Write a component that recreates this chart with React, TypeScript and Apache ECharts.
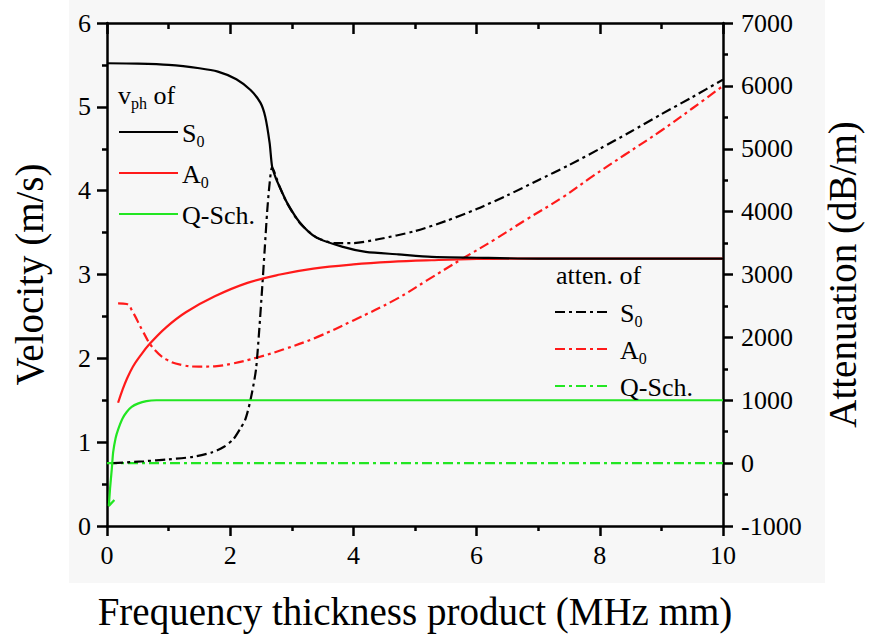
import React, { useEffect, useRef } from 'react';
import * as echarts from 'echarts';

// ---- Data ----
// Phase velocity (m/s), left axis
const s0VelX = [0, 0.5, 1, 1.5, 1.8, 2.1, 2.33, 2.49, 2.57, 2.64, 2.68, 2.74, 2.8, 2.92, 3.13, 3.4, 3.83, 4.2, 4.73, 5.27, 6, 7, 8, 9, 10];
const s0VelY = [5.52, 5.515, 5.5, 5.46, 5.42, 5.33, 5.2, 5.05, 4.88, 4.57, 4.29, 4.15, 4.05, 3.86, 3.62, 3.44, 3.33, 3.27, 3.24, 3.21, 3.2, 3.19, 3.19, 3.19, 3.19];

const a0VelX = [0.18, 0.25, 0.32, 0.42, 0.53, 0.69, 0.96, 1.28, 1.75, 2.28, 2.81, 3.35, 4.0, 4.6, 5.27, 6, 7, 8, 9, 10];
const a0VelY = [1.47, 1.62, 1.75, 1.9, 2.02, 2.17, 2.37, 2.55, 2.74, 2.9, 3.0, 3.07, 3.12, 3.15, 3.17, 3.185, 3.19, 3.19, 3.19, 3.19];

const qsVelX = [0.12, 0.03, 0.05, 0.08, 0.1, 0.14, 0.18, 0.25, 0.32, 0.4, 0.5, 0.64, 0.8, 2, 4, 6, 8, 10];
const qsVelY = [0.31, 0.24, 0.45, 0.7, 0.88, 1.05, 1.15, 1.28, 1.36, 1.42, 1.46, 1.49, 1.5, 1.5, 1.5, 1.5, 1.5, 1.5];

// Attenuation (dB/m), right axis
const s0AttX = [0.1, 0.6, 1.0, 1.4, 1.7, 1.9, 2.05, 2.17, 2.24, 2.3, 2.36, 2.42, 2.47, 2.52, 2.56, 2.6, 2.64, 2.68, 2.8, 2.92, 3.13, 3.4, 3.7, 4.0, 4.4, 5, 5.5, 6, 6.5, 7, 7.5, 8, 8.5, 9, 9.5, 10];
const s0AttY = [0, 30, 60, 100, 170, 260, 380, 560, 680, 880, 1150, 1500, 2100, 2800, 3400, 4000, 4450, 4700, 4400, 4140, 3820, 3590, 3500, 3500, 3560, 3690, 3850, 4040, 4260, 4500, 4740, 5000, 5270, 5550, 5820, 6100];

const a0AttX = [0.18, 0.32, 0.42, 0.58, 0.74, 0.96, 1.22, 1.49, 1.75, 2.02, 2.44, 2.87, 3.4, 4.0, 4.68, 5.2, 5.75, 6.3, 6.8, 7.4, 7.88, 8.4, 9.0, 9.5, 10];
const a0AttY = [2540, 2530, 2400, 2100, 1840, 1650, 1560, 1535, 1540, 1580, 1680, 1810, 2000, 2270, 2600, 2910, 3240, 3560, 3870, 4230, 4560, 4900, 5290, 5640, 6000];

const qsAttX = [0, 10];
const qsAttY = [0, 0];

// Axis ranges / ticks
const xMin = 0, xMax = 10, xStep = 2;
const vMin = 0, vMax = 6, vStep = 1;
const aMin = -1000, aMax = 7000, aStep = 1000;

const xTitle = 'Frequency thickness product (MHz mm)';
const vTitle = 'Velocity (m/s)';
const aTitle = 'Attenuation (dB/m)';

const BLACK = '#000000';
const RED = '#ff1a1a';
const GREEN = '#22e622';
const FONT = 'Liberation Serif';
const DASHDOT = [10, 4, 3, 4];
const LW = 2.2;
const AXW = 2.5;
const AXC = '#000000';

const zip = (xs: number[], ys: number[]) => xs.map((x, i) => [x, ys[i]]);

const richSub = {
  m: { fontFamily: FONT, fontSize: 26, color: BLACK, lineHeight: 32 },
  s: { fontFamily: FONT, fontSize: 16, color: BLACK, verticalAlign: 'bottom', lineHeight: 16 },
};

function legendRow(x: number, y: number, len: number, color: string, dash: any, label: string, textX: number) {
  const hasSub = label.endsWith('0');
  const txt = hasSub ? `{m|${label.slice(0, -1)}}{s|0}` : `{m|${label}}`;
  return [
    {
      type: 'line',
      shape: { x1: x, y1: y, x2: x + len, y2: y },
      style: { stroke: color, lineWidth: LW, lineDash: dash },
      z: 10,
    },
    {
      type: 'text',
      x: textX,
      y: y + 1,
      style: { text: txt, rich: richSub, verticalAlign: 'middle', align: 'left' },
      z: 10,
    },
  ];
}

export default function App() {
  const ref = useRef<HTMLDivElement>(null);
  useEffect(() => {
    document.body.style.margin = '0';
    const chart = echarts.init(ref.current!, null, { renderer: 'svg' });
    const axisLine = () => ({ show: true, onZero: false, lineStyle: { color: AXC, width: AXW } });
    const tick = (inside: boolean, len: number) => ({ show: true, inside, length: len, lineStyle: { color: AXC, width: AXW } });
    const minor = (len: number) => ({ show: true, splitNumber: 2, length: len, lineStyle: { color: AXC, width: AXW } });
    const labelStyle = () => ({ fontFamily: FONT, fontSize: 26, color: BLACK });
    const option: any = {
      animation: false,
      grid: { left: 107, right: 137, top: 23, bottom: 109 },
      xAxis: [
        {
          type: 'value', position: 'bottom', min: xMin, max: xMax, interval: xStep,
          axisLine: axisLine(), splitLine: { show: false },
          axisTick: tick(false, 10), minorTick: minor(5),
          axisLabel: { ...labelStyle(), margin: 16 },
          name: xTitle, nameLocation: 'middle', nameGap: 66,
          nameTextStyle: { fontFamily: FONT, fontSize: 39, color: BLACK },
        },
        {
          type: 'value', position: 'top', min: xMin, max: xMax, interval: xStep,
          axisLine: axisLine(), splitLine: { show: false },
          axisTick: tick(true, 11), minorTick: minor(6),
          axisLabel: { show: false },
        },
      ],
      yAxis: [
        {
          type: 'value', position: 'left', min: vMin, max: vMax, interval: vStep,
          axisLine: axisLine(), splitLine: { show: false },
          axisTick: tick(false, 10), minorTick: minor(5),
          axisLabel: { ...labelStyle(), margin: 16 },
          name: vTitle, nameLocation: 'middle', nameRotate: 90, nameGap: 58,
          nameTextStyle: { fontFamily: FONT, fontSize: 39, color: BLACK },
        },
        {
          type: 'value', position: 'right', min: aMin, max: aMax, interval: aStep,
          axisLine: axisLine(), splitLine: { show: false },
          axisTick: tick(false, 10), minorTick: minor(5),
          axisLabel: { ...labelStyle(), margin: 18, formatter: (v: number) => String(v) },
          name: aTitle, nameLocation: 'middle', nameRotate: 90, nameGap: 100,
          nameTextStyle: { fontFamily: FONT, fontSize: 39, color: BLACK },
        },
      ],
      graphic: [
        {
          type: 'text', x: 118, y: 95, z: 10,
          style: { text: '{m|v}{s|ph}{m| of}', rich: richSub, verticalAlign: 'middle', align: 'left' },
        },
        ...legendRow(119, 132, 59, BLACK, null, 'S0', 182),
        ...legendRow(119, 173, 59, RED, null, 'A0', 182),
        ...legendRow(119, 214, 59, GREEN, null, 'Q-Sch.', 182),
        {
          type: 'text', x: 556, y: 275, z: 10,
          style: { text: '{m|atten. of}', rich: richSub, verticalAlign: 'middle', align: 'left' },
        },
        ...legendRow(555, 312, 54, BLACK, DASHDOT, 'S0', 620),
        ...legendRow(555, 349, 54, RED, DASHDOT, 'A0', 620),
        ...legendRow(555, 386, 54, GREEN, DASHDOT, 'Q-Sch.', 620),
      ],
      series: [
        {
          name: 'atten. Q-Sch.', type: 'line', xAxisIndex: 0, yAxisIndex: 1, data: zip(qsAttX, qsAttY),
          symbol: 'none', lineStyle: { color: GREEN, width: LW, type: DASHDOT },
        },
        {
          name: 'atten. A0', type: 'line', xAxisIndex: 0, yAxisIndex: 1, data: zip(a0AttX, a0AttY),
          symbol: 'none', smooth: 0.4, lineStyle: { color: RED, width: LW, type: DASHDOT },
        },
        {
          name: 'atten. S0', type: 'line', xAxisIndex: 0, yAxisIndex: 1, data: zip(s0AttX, s0AttY),
          symbol: 'none', smooth: 0.25, lineStyle: { color: BLACK, width: LW, type: DASHDOT },
        },
        {
          name: 'vph Q-Sch.', type: 'line', xAxisIndex: 0, yAxisIndex: 0, data: zip(qsVelX, qsVelY),
          symbol: 'none', smooth: 0.2, lineStyle: { color: GREEN, width: LW },
        },
        {
          name: 'vph A0', type: 'line', xAxisIndex: 0, yAxisIndex: 0, data: zip(a0VelX, a0VelY),
          symbol: 'none', smooth: 0.4, lineStyle: { color: RED, width: LW },
        },
        {
          name: 'vph S0', type: 'line', xAxisIndex: 0, yAxisIndex: 0, data: zip(s0VelX, s0VelY),
          symbol: 'none', smooth: 0.25, lineStyle: { color: BLACK, width: LW },
        },
      ],
    };
    chart.setOption(option);
    return () => chart.dispose();
  }, []);
  return (
    <div style={{ position: 'relative', width: 870, height: 636, background: '#ffffff' }}>
      <div style={{ position: 'absolute', left: 69, top: 0, width: 756, height: 583, background: '#f7f7f7' }} />
      <div ref={ref} style={{ position: 'absolute', left: 0, top: 0, width: 870, height: 636 }} />
    </div>
  );
}
